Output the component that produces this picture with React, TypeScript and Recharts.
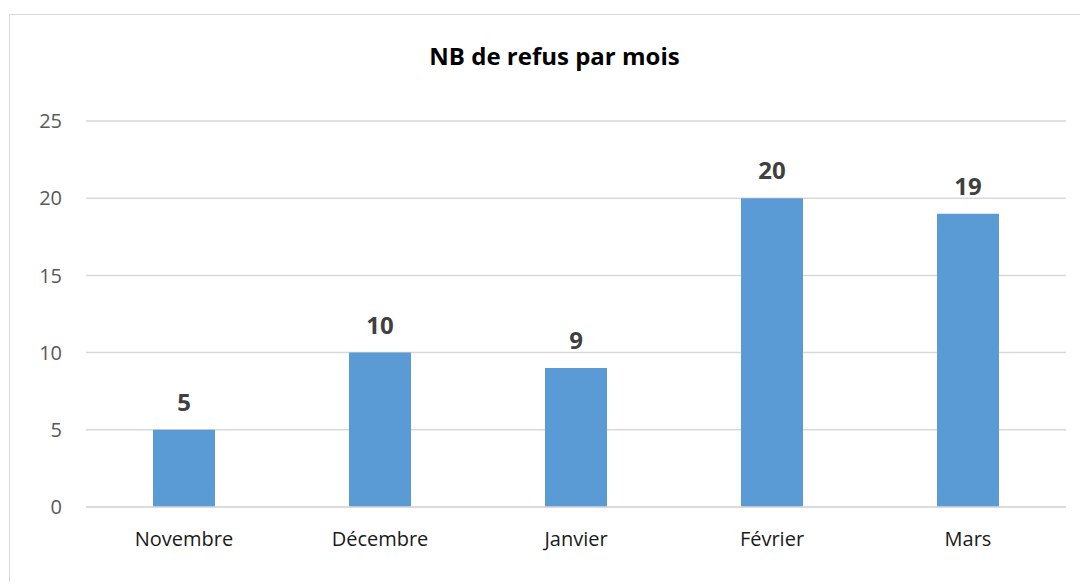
import { BarChart, Bar, XAxis, YAxis, CartesianGrid, LabelList } from 'recharts';

const months = ['Novembre', 'Décembre', 'Janvier', 'Février', 'Mars'];
const refus = [5, 10, 9, 20, 19];
const yTicks = [0, 5, 10, 15, 20, 25];

const data = months.map((mois, i) => ({ mois, refus: refus[i] }));

const font = '"Open Sans", sans-serif';

export default function App() {
  return (
    <div
      style={{
        position: 'relative',
        top: 6,
        left: 1,
        width: 1073,
        height: 574,
        border: '1px solid #d9d9d9',
        boxSizing: 'border-box',
        background: '#fff',
        fontFamily: font,
      }}
    >
      <div
        style={{
          position: 'absolute',
          left: 18,
          right: 0,
          top: 25,
          textAlign: 'center',
          fontSize: 24,
          fontWeight: 700,
          color: '#000',
          lineHeight: '32px',
        }}
      >
        NB de refus par mois
      </div>
      <BarChart
        width={1071}
        height={570}
        data={data}
        margin={{ top: 106, right: 15, bottom: 48, left: 0 }}
      >
        <CartesianGrid vertical={false} stroke="#d9d9d9" strokeWidth={1.5} />
        <XAxis
          dataKey="mois"
          tickLine={false}
          axisLine={{ stroke: '#d9d9d9', strokeWidth: 1.5 }}
          tickSize={0}
          tickMargin={25}
          tick={{ fontSize: 20, fill: '#1a1a1a', fontFamily: font }}
        />
        <YAxis
          width={76}
          domain={[0, 25]}
          ticks={yTicks}
          tickLine={false}
          axisLine={false}
          tickSize={0}
          tickMargin={24}
          tick={{ fontSize: 20, fill: '#595959', fontFamily: font }}
        />
        <Bar dataKey="refus" fill="#5b9bd5" barSize={62} isAnimationActive={false}>
          <LabelList
            dataKey="refus"
            position="top"
            offset={19}
            style={{ fontSize: 24, fontWeight: 700, fill: '#404040', fontFamily: font }}
          />
        </Bar>
      </BarChart>
    </div>
  );
}
